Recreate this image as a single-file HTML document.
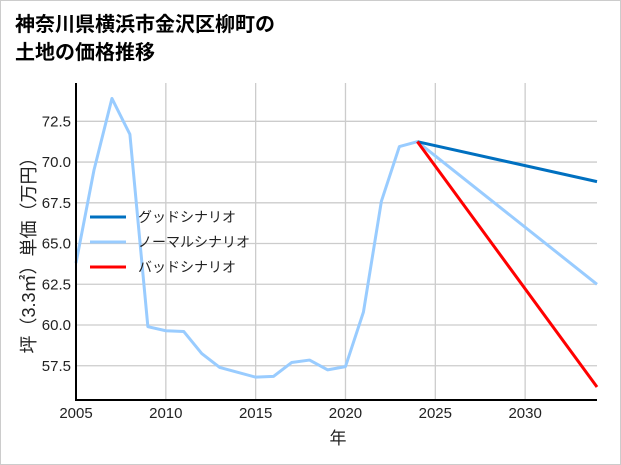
<!DOCTYPE html>
<html><head><meta charset="utf-8"><style>
body{margin:0;background:#fff;}
#wrap{position:relative;width:619px;height:463px;border:1px solid #ccc;background:#fff;overflow:hidden;}
svg text{font-family:"Liberation Sans","Noto Sans CJK JP",sans-serif;}
</style></head><body>
<div id="wrap">
<svg id="chart" width="621" height="465">
<text x="14" y="30" font-size="20" font-weight="bold" fill="#000">神奈川県横浜市金沢区柳町の</text>
<text x="14" y="58" font-size="20" font-weight="bold" fill="#000">土地の価格推移</text>
<g id="grid"></g><g id="series"></g><g id="axes"></g>
<text x="337" y="443" font-size="17" text-anchor="middle" fill="#222">年</text>
<text transform="translate(34,250) rotate(-90)" font-size="18" text-anchor="middle" fill="#222">坪（3.3㎡）単価（万円）</text>
<g id="legend"></g>
</svg></div>
<script>
const years=[2005,2006,2007,2008,2009,2010,2011,2012,2013,2014,2015,2016,2017,2018,2019,2020,2021,2022,2023,2024];
const history=[63.8,69.5,73.9,71.7,59.9,59.65,59.6,58.25,57.4,57.1,56.8,56.85,57.7,57.85,57.25,57.45,60.8,67.6,70.95,71.25];
const projYears=[2024,2034];
const goodVals=[71.25,68.8];
const normalVals=[71.25,62.5];
const badVals=[71.25,56.2];
const xTicks=[2005,2010,2015,2020,2025,2030];
const yTicks=[57.5,60.0,62.5,65.0,67.5,70.0,72.5];
const NS="http://www.w3.org/2000/svg";
const L=75,R=596,T=82,B=399,x0=2005,x1=2034,y0=55.4,y1=74.85;
const X=v=>L+(v-x0)/(x1-x0)*(R-L);
const Y=v=>B-(v-y0)/(y1-y0)*(B-T);
function mk(tag,attrs,parent){const e=document.createElementNS(NS,tag);for(const k in attrs)e.setAttribute(k,attrs[k]);parent.appendChild(e);return e;}
const grid=document.getElementById('grid'),axes=document.getElementById('axes'),ser=document.getElementById('series'),leg=document.getElementById('legend');
xTicks.forEach(t=>{
 const g=mk('line',{x1:X(t),x2:X(t),y1:T,y2:B,stroke:'#ccc','stroke-width':1.3},grid);
 
 
 const tx=mk('text',{x:X(t),y:B+18,'font-size':15,'text-anchor':'middle',fill:'#222'},axes);tx.textContent=t;
 
 
});
yTicks.forEach(t=>{
 const g=mk('line',{x1:L,x2:R,y1:Y(t),y2:Y(t),stroke:'#ccc','stroke-width':1.3},grid);
 
 
 const tx=mk('text',{x:L-5,y:Y(t)+5,'font-size':15,'text-anchor':'end',fill:'#222'},axes);tx.textContent=t.toFixed(1);
 
 
});
const ax=mk('path',{d:`M${L},${T}V${B}H${R}`,fill:'none',stroke:'#000','stroke-width':2},axes);


function line(xs,vs,color,name){
 const p=mk('polyline',{points:xs.map((x,i)=>X(x)+','+Y(vs[i])).join(' '),fill:'none',stroke:color,'stroke-width':3,'stroke-linejoin':'round'},ser);
 
 
}
line(years,history,'#99ccff','history-line');
line(projYears,normalVals,'#99ccff','normal-scenario-line');
line(projYears,goodVals,'#0070c0','good-scenario-line');
line(projYears,badVals,'#ff0000','bad-scenario-line');
[['グッドシナリオ','#0070c0'],['ノーマルシナリオ','#99ccff'],['バッドシナリオ','#ff0000']].forEach((e,i)=>{
 const y=216+i*25;
 const l=mk('line',{x1:89,x2:125,y1:y,y2:y,stroke:e[1],'stroke-width':3},leg);
 
 
 const t=mk('text',{x:137,y:y+5,'font-size':14,fill:'#222'},leg);t.textContent=e[0];
 
 
});
</script></body></html>
